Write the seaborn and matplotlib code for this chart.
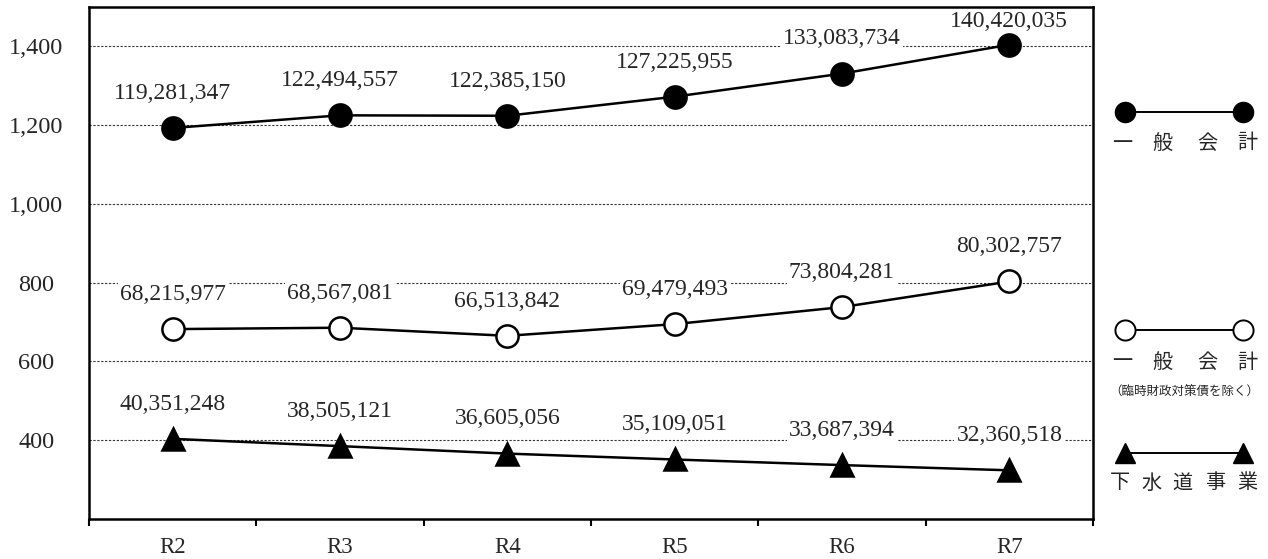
import numpy as np
import pandas as pd
import matplotlib
matplotlib.use('Agg')
import matplotlib.pyplot as plt
from matplotlib.ticker import FixedLocator, FuncFormatter
import seaborn as sns

# Données (en milliers de yens) ; l'axe est en 1e8 yens
years = ['R2', 'R3', 'R4', 'R5', 'R6', 'R7']
general = [119281347, 122494557, 122385150, 127225955, 133083734, 140420035]
general_excl = [68215977, 68567081, 66513842, 69479493, 73804281, 80302757]
sewer = [40351248, 38505121, 36605056, 35109051, 33687394, 32360518]
y_ticks = [400, 600, 800, 1000, 1200, 1400]

sns.set_style('white')
plt.rcParams['font.family'] = ['Liberation Serif', 'Noto Sans CJK JP', 'DejaVu Sans']
JP = ['Noto Sans CJK JP', 'DejaVu Sans']

W, H = 1268, 559
fig = plt.figure(figsize=(W / 100, H / 100), dpi=100)
ax = fig.add_axes([89 / W, 40 / H, 1004 / W, 512 / H])

series = [(general, 'o', 'black'), (general_excl, 'o', 'white'), (sewer, '^', 'black')]
for vals, mk, face in series:
    df = pd.DataFrame({'year': years, 'value': np.array(vals) / 1e5})
    sns.lineplot(data=df, x='year', y='value', ax=ax, color='black', lw=1.8,
                 marker=mk, ms=16, mfc=face, mec='black', mew=1.8, zorder=3)
    for i, v in enumerate(vals):
        # étiquette au-dessus du point, bornée sous le haut du cadre
        ax.text(i, min(v / 1e5 + 88, 1464), f'{v:,}', ha='center', va='center',
                fontsize=17, zorder=2.5,
                bbox=dict(fc='white', ec='none', pad=1.5))

ax.set_xlim(-0.5, 5.5)
ax.set_ylim(200, 1500)
ax.set_xlabel('')
ax.set_ylabel('')

ax.set_yticks(y_ticks)
ax.yaxis.set_major_formatter(FuncFormatter(lambda v, p: f'{v:,.0f}'))
ax.tick_params(axis='y', length=0, pad=38, labelsize=17.5)
plt.setp(ax.get_yticklabels(), ha='center')

ax.set_xticks(range(len(years)))
ax.set_xticklabels(years)
ax.xaxis.set_minor_locator(FixedLocator(np.arange(-0.5, len(years), 1)))
ax.tick_params(axis='x', which='major', length=0, pad=13, labelsize=16.5)
ax.tick_params(axis='x', which='minor', bottom=True, length=5, width=1.5,
               direction='out', color='black')

ax.set_axisbelow(True)
ax.yaxis.grid(True, ls=(0, (2, 1.5)), color='#333333', lw=0.8)
ax.xaxis.grid(False)
for s in ax.spines.values():
    s.set_visible(True)
    s.set_color('black')
    s.set_linewidth(1.8)
    s.set_zorder(4)

# Légende dessinée à droite
lg = fig.add_axes([1095 / W, 0, 173 / W, 1])
lg.set_xlim(1095, 1268)
lg.set_ylim(H, 0)
lg.axis('off')

lg.plot([1125, 1243], [112, 112], color='black', lw=1.4, marker='o', ms=14.5,
        mfc='black', mec='black')
for x, c in zip([1122, 1162, 1207, 1247], '一般会計'):
    lg.text(x, 143, c, ha='center', va='center', fontsize=14.5, family=JP)

lg.plot([1125, 1243], [330, 330], color='black', lw=1.4, marker='o', ms=14.5,
        mfc='white', mec='black', mew=1.4)
for x, c in zip([1122, 1162, 1207, 1247], '一般会計'):
    lg.text(x, 362, c, ha='center', va='center', fontsize=14.5, family=JP)
lg.text(1184, 392, '（臨時財政対策債を除く）', ha='center', va='center',
        fontsize=9, family=JP)

lg.plot([1125, 1243], [453, 453], color='black', lw=1.4, marker='^', ms=15,
        mfc='black', mec='black')
for x, c in zip([1120, 1152, 1182, 1215, 1247], '下水道事業'):
    lg.text(x, 483, c, ha='center', va='center', fontsize=14.5, family=JP)

fig.savefig('out.png', dpi=100)
plt.close()
